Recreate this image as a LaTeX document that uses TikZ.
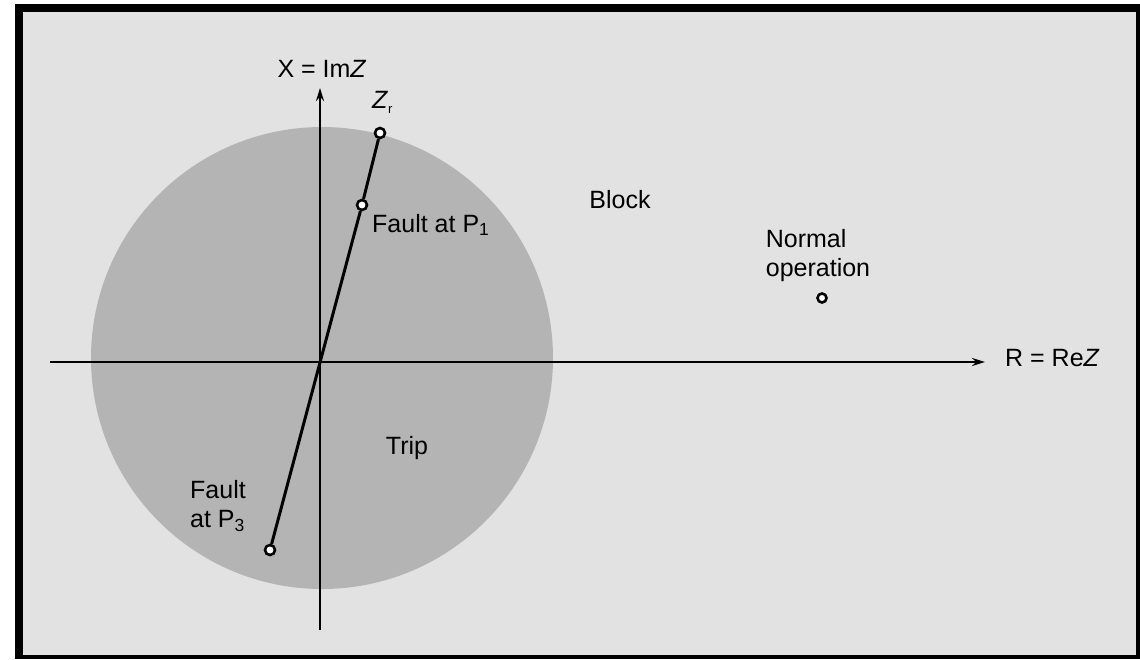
\documentclass[tikz,border=0pt]{standalone}
\usepackage{fontspec}
\setmainfont{Liberation Sans}
\usetikzlibrary{arrows.meta}
\definecolor{bgc}{RGB}{226,226,226}
\definecolor{circc}{RGB}{180,180,180}
\begin{document}
\begin{tikzpicture}[x=1pt,y=-1pt,
  axisline/.style={line width=2.4pt,-{Stealth[length=13pt,width=8pt]}},
  faultline/.style={line width=3pt},
  pt/.style={circle,draw,line width=2.6pt,fill=white,inner sep=0pt,minimum size=10pt},
  lbl/.style={font=\fontsize{25}{29}\selectfont,inner sep=0pt}]
\useasboundingbox (0,0) rectangle (1140,659);
\fill[white] (0,0) rectangle (1140,659);
\fill[black] (15,4) rectangle (1140,659);
\fill[bgc] (23,12) rectangle (1136,655);
\fill[circc] (322,358) circle[radius=231pt];
% axes
\coordinate (xl) at (50,362);
\coordinate (xr) at (985,362);
\coordinate (yb) at (320,630);
\coordinate (yt) at (320,88);
\draw[axisline] (xl) -- (xr);
\draw[axisline] (yb) -- (yt);
% points
\node[pt] (zr) at (380,133) {};
\node[pt] (p1) at (362,205) {};
\node[pt] (p3) at (270,550) {};
\node[pt,minimum size=9pt] (no) at (822,298) {};
\draw[faultline] (p3) -- (p1);
\draw[faultline] (p1) -- (zr);
% labels
\node[lbl] (lx) at (322,69) {X = Im\textit{Z}};
\node[lbl,anchor=west] (lz) at (372,102) {\textit{Z}\raisebox{-5pt}{\fontsize{13}{15}\selectfont r}};
\node[lbl] (lb) at (620,200) {Block};
\node[lbl,anchor=west] (lf1) at (372,225) {Fault at P\textsubscript{1}};
\node[lbl,align=left] (ln) at (818,256) {Normal\\operation};
\node[lbl,anchor=west] (lr) at (1005,358) {R = Re\textit{Z}};
\node[lbl] (lt) at (407,448) {Trip};
\node[lbl,align=left,anchor=west] (lf3) at (190,506) {Fault\\at P\textsubscript{3}};
\end{tikzpicture}
\end{document}
